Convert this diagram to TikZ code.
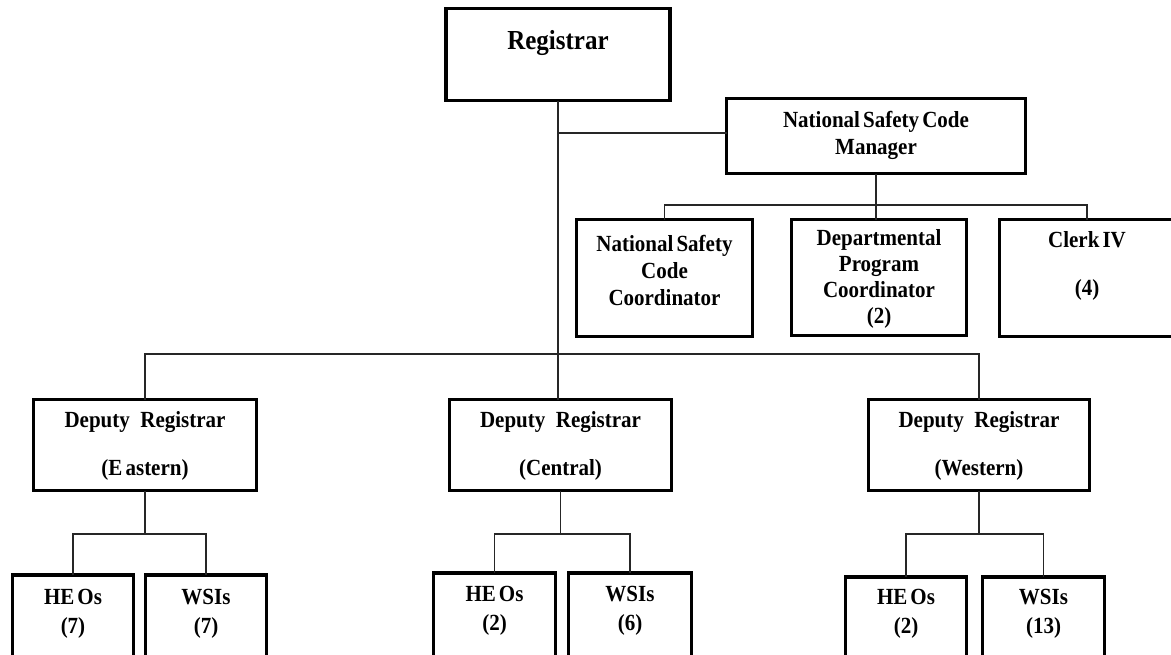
\documentclass[tikz,border=0pt]{standalone}
\usepackage{fontspec}
\setmainfont{Liberation Serif}
\newcommand\tl[1]{\scalebox{1}[1.1]{#1}}
\begin{document}
\begin{tikzpicture}[x=1pt,y=-1pt,
  box/.style={draw=black, line width=3.4pt, rectangle, inner sep=0pt, outer sep=0pt, fill=white},
  txt/.style={font={\bfseries\fontsize{21}{27}\selectfont\spaceskip=0.15em\relax}, align=center, inner sep=0pt},
  small/.style={font={\bfseries\fontsize{21}{29}\selectfont\spaceskip=0.15em\relax}},
  conn/.style={draw=black!85, line width=1.2pt}]
\useasboundingbox (0,0) rectangle (1171,654);
\clip (0,0) rectangle (1171,654);

% boxes
\node[box, minimum width=224, minimum height=92] (reg) at (558,54.5) {};
\node[box, minimum width=299, minimum height=75] (nscm) at (876,136) {};
\node[box, minimum width=176, minimum height=117] (nscc) at (664.5,278) {};
\node[box, minimum width=175, minimum height=116] (dpc) at (879,277.5) {};
\node[box, minimum width=175, minimum height=117] (clerk) at (1087,278) {};
\node[box, minimum width=223, minimum height=91] (dE) at (145,445) {};
\node[box, minimum width=222, minimum height=91] (dC) at (560.5,445) {};
\node[box, minimum width=221, minimum height=91] (dW) at (979,445) {};
\node[box, minimum width=121, minimum height=110] (heoE) at (73,630) {};
\node[box, minimum width=121, minimum height=110] (wsiE) at (206,630) {};
\node[box, minimum width=122, minimum height=110] (heoC) at (494.5,628) {};
\node[box, minimum width=123, minimum height=110] (wsiC) at (630,628) {};
\node[box, minimum width=121, minimum height=110] (heoW) at (906,632) {};
\node[box, minimum width=122, minimum height=110] (wsiW) at (1043.5,632) {};

% connectors
\coordinate (nb) at (558,133);
\coordinate (bus) at (558,354);
\coordinate (nbus) at (876,205);
\coordinate (eb) at (145,534);
\coordinate (cb) at (560.5,534);
\coordinate (wb) at (979,534);
\draw[conn] (reg.south) -- (reg.south |- dC.north);
\draw[conn] (nb) -- (nscm.west |- nb);
\draw[conn] (dE.north) |- (bus) -| (dW.north);
\draw[conn] (nscm.south) -- (nscm.south |- dpc.north);
\draw[conn] (nscc.north) |- (nbus) -| (clerk.north);
\draw[conn] (dE.south) -- (eb);
\draw[conn] (heoE.north) |- (eb) -| (wsiE.north);
\draw[conn] (dC.south) -- (cb);
\draw[conn] (heoC.north) |- (cb) -| (wsiC.north);
\draw[conn] (dW.south) -- (wb);
\draw[conn] (heoW.north) |- (wb) -| (wsiW.north);

% texts
\node[txt, font={\bfseries\fontsize{25}{30}\selectfont}] (regt) at (558,43) {\tl{Registrar}};
\node[txt] (nscmt) at (876,135) {\tl{National Safety Code}\\\tl{Manager}};
\node[txt] (nscct) at (664.5,270) {\tl{National Safety}\\\tl{Code}\\\tl{Coordinator}};
\node[txt, font={\bfseries\fontsize{21}{26}\selectfont}] (dpct) at (879,279) {\tl{Departmental}\\\tl{Program}\\\tl{Coordinator}\\\tl{(2)}};
\node[txt] (clerkt) at (1087,266) {\tl{Clerk IV}\\[21pt]\tl{(4)}};
\node[txt] (dEt) at (145,446) {\tl{Deputy\hspace{0.5em}Registrar}\\[21pt]\tl{(E astern)}};
\node[txt] (dCt) at (560.5,446) {\tl{Deputy\hspace{0.5em}Registrar}\\[21pt]\tl{(Central)}};
\node[txt] (dWt) at (979,446) {\tl{Deputy\hspace{0.5em}Registrar}\\[21pt]\tl{(Western)}};
\node[txt, small] (heoEt) at (73,613.5) {\tl{HE Os}\\\tl{(7)}};
\node[txt, small] (wsiEt) at (206,613.5) {\tl{WSIs}\\\tl{(7)}};
\node[txt, small] (heoCt) at (494.5,611) {\tl{HE Os}\\\tl{(2)}};
\node[txt, small] (wsiCt) at (630,611) {\tl{WSIs}\\\tl{(6)}};
\node[txt, small] (heoWt) at (906,613.5) {\tl{HE Os}\\\tl{(2)}};
\node[txt, small] (wsiWt) at (1043.5,613.5) {\tl{WSIs}\\\tl{(13)}};
\end{tikzpicture}
\end{document}
